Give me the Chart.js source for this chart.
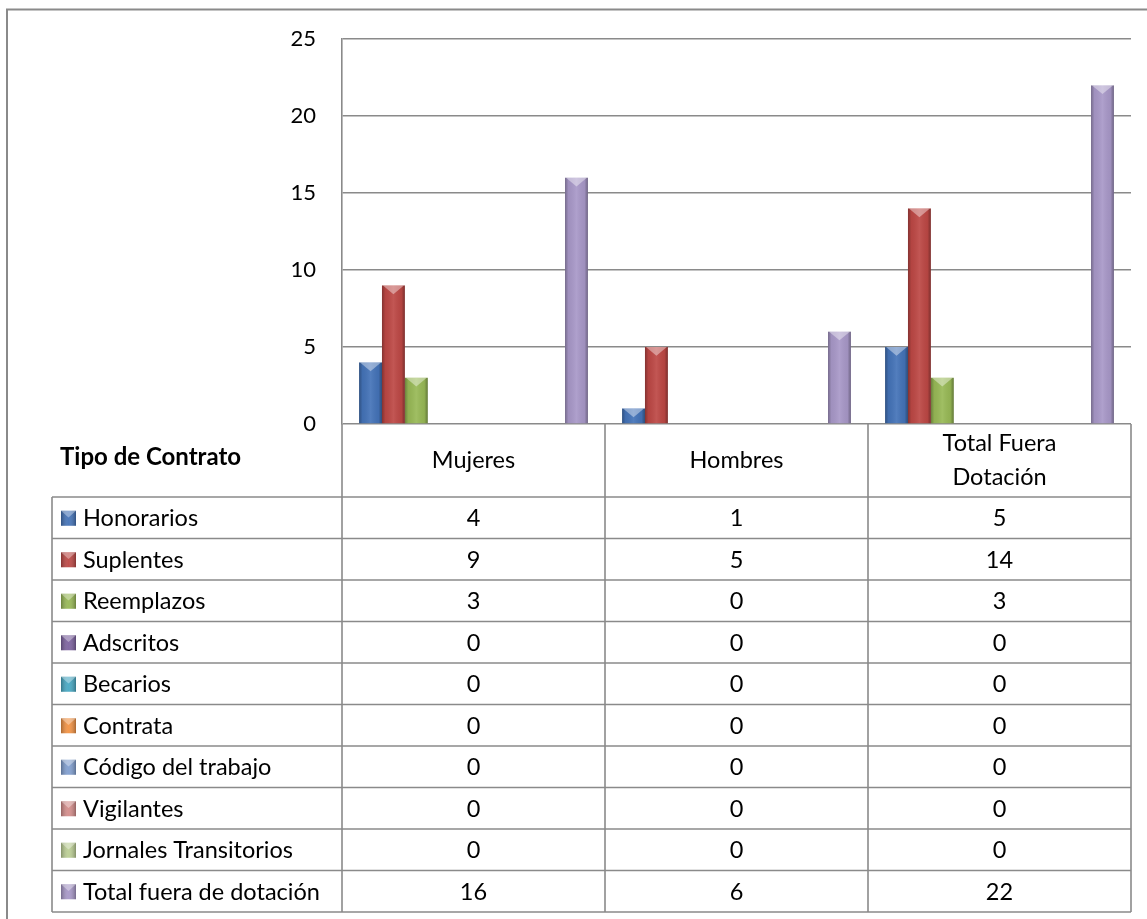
<!DOCTYPE html>
<html>
<head>
<meta charset="utf-8">
<script src="https://cdn.jsdelivr.net/npm/chart.js@4"></script>
<style>
  body { margin: 0; background: #fff; }
  #wrap { width: 1147px; height: 919px; position: relative; }
</style>
</head>
<body>
<div id="wrap"><canvas id="chart"></canvas></div>
<script>
const categories = ["Mujeres", "Hombres", "Total Fuera Dotación"];
const headerLines = [["Mujeres"], ["Hombres"], ["Total Fuera", "Dotación"]];
const seriesNames = [
  "Honorarios", "Suplentes", "Reemplazos", "Adscritos", "Becarios",
  "Contrata", "Código del trabajo", "Vigilantes", "Jornales Transitorios",
  "Total fuera de dotación"
];
const honorarios = [4, 1, 5];
const suplentes = [9, 5, 14];
const reemplazos = [3, 0, 3];
const adscritos = [0, 0, 0];
const becarios = [0, 0, 0];
const contrata = [0, 0, 0];
const codigoTrabajo = [0, 0, 0];
const vigilantes = [0, 0, 0];
const jornales = [0, 0, 0];
const totalFuera = [16, 6, 22];
const yTicks = [0, 5, 10, 15, 20, 25];

const seriesValues = [honorarios, suplentes, reemplazos, adscritos, becarios,
  contrata, codigoTrabajo, vigilantes, jornales, totalFuera];
const colors = ["#4473b8", "#bd4845", "#98b956", "#7d62a0", "#47a9c4",
  "#f39344", "#819fd0", "#d48d8b", "#bccf95", "#a898c8"];

const FONT = "Lato, 'Noto Sans', sans-serif";
const LINE = "#8a8a8a";

// bevel look on each bar, drawn over the library's own bar elements
const bevelPlugin = {
  id: "bevel",
  afterDatasetsDraw(chart) {
    const ctx = chart.ctx;
    chart.data.datasets.forEach((ds, i) => {
      chart.getDatasetMeta(i).data.forEach(bar => {
        const h = bar.base - bar.y;
        if (h <= 0.5) return;
        const l = bar.x - bar.width / 2, r = bar.x + bar.width / 2, w = bar.width;
        ctx.save();
        const g = ctx.createLinearGradient(l, 0, r, 0);
        g.addColorStop(0, "rgba(0,0,0,0.30)");
        g.addColorStop(0.15, "rgba(0,0,0,0.05)");
        g.addColorStop(0.5, "rgba(255,255,255,0.08)");
        g.addColorStop(0.85, "rgba(0,0,0,0.05)");
        g.addColorStop(1, "rgba(0,0,0,0.35)");
        ctx.fillStyle = g;
        ctx.fillRect(l, bar.y, w, h);
        const t = Math.min(w * 0.38, h);
        ctx.beginPath();
        ctx.moveTo(l + 1, bar.y);
        ctx.lineTo(r - 1, bar.y);
        ctx.lineTo(bar.x, bar.y + t);
        ctx.closePath();
        ctx.fillStyle = "rgba(255,255,255,0.4)";
        ctx.fill();
        ctx.restore();
      });
    });
  }
};

function drawKey(ctx, x, y, s, color) {
  ctx.save();
  ctx.fillStyle = color;
  ctx.fillRect(x, y, s, s);
  const g = ctx.createLinearGradient(x, 0, x + s, 0);
  g.addColorStop(0, "rgba(0,0,0,0.3)");
  g.addColorStop(0.5, "rgba(255,255,255,0.05)");
  g.addColorStop(1, "rgba(0,0,0,0.3)");
  ctx.fillStyle = g;
  ctx.fillRect(x, y, s, s);
  ctx.beginPath();
  ctx.moveTo(x, y);
  ctx.lineTo(x + s, y);
  ctx.lineTo(x + s / 2, y + s * 0.45);
  ctx.closePath();
  ctx.fillStyle = "rgba(255,255,255,0.35)";
  ctx.fill();
  ctx.restore();
}

// data table under the plot, columns follow the x scale
const tablePlugin = {
  id: "dataTable",
  afterDraw(chart) {
    const ctx = chart.ctx;
    const xs = chart.scales.x;
    const area = chart.chartArea;
    const n = categories.length;
    const colW = (xs.right - xs.left) / n;
    const edges = [];
    for (let i = 0; i <= n; i++) edges.push(xs.left + i * colW);
    const tableLeft = 52;
    const headerTop = area.bottom;
    const headerH = 73;
    const rowsTop = headerTop + headerH;
    const rowH = 41.5;
    const rowsBottom = rowsTop + rowH * seriesNames.length;

    ctx.save();
    // outer chart frame (cropped on right and bottom)
    ctx.strokeStyle = LINE;
    ctx.lineWidth = 2;
    ctx.beginPath();
    ctx.moveTo(7, chart.height);
    ctx.lineTo(7, 9.5);
    ctx.lineTo(chart.width, 9.5);
    ctx.stroke();

    ctx.lineWidth = 1.6;
    ctx.beginPath();
    // column lines
    edges.forEach(x => { ctx.moveTo(x, headerTop); ctx.lineTo(x, rowsBottom); });
    ctx.moveTo(tableLeft, rowsTop); ctx.lineTo(tableLeft, rowsBottom);
    // row lines
    for (let r = 0; r <= seriesNames.length; r++) {
      const y = rowsTop + r * rowH;
      ctx.moveTo(tableLeft, y); ctx.lineTo(xs.right, y);
    }
    ctx.stroke();

    ctx.fillStyle = "#000";
    ctx.textBaseline = "middle";
    ctx.font = "bold 24px " + FONT;
    ctx.textAlign = "left";
    ctx.fillText("Tipo de Contrato", 60, headerTop + 33);

    ctx.font = "23.5px " + FONT;
    ctx.textAlign = "center";
    headerLines.forEach((lines, i) => {
      const cx = xs.getPixelForTick(i);
      const lh = 34;
      const y0 = headerTop + headerH / 2 - (lines.length - 1) * lh / 2;
      lines.forEach((t, k) => ctx.fillText(t, cx, y0 + k * lh));
    });

    seriesNames.forEach((name, r) => {
      const cy = rowsTop + r * rowH + rowH / 2;
      drawKey(ctx, 61, cy - 7, 15, colors[r]);
      ctx.textAlign = "left";
      ctx.fillText(name, 83, cy + 1);
      ctx.textAlign = "center";
      seriesValues[r].forEach((v, i) => {
        ctx.fillText(String(v), xs.getPixelForTick(i), cy + 1);
      });
    });
    ctx.restore();
  }
};

new Chart(document.getElementById("chart"), {
  type: "bar",
  data: {
    labels: categories,
    datasets: seriesNames.map((name, i) => ({
      label: name,
      data: seriesValues[i],
      backgroundColor: colors[i],
      borderWidth: 0,
      categoryPercentage: 0.87,
      barPercentage: 1.0,
    })),
  },
  options: {
    responsive: true,
    maintainAspectRatio: false,
    animation: false,
    devicePixelRatio: 1,
    layout: { padding: { top: 39, right: 16, bottom: 495, left: 0 } },
    scales: {
      x: {
        display: false,
      },
      y: {
        min: 0,
        max: 25,
        afterFit: (scale) => { scale.width = 342; },
        afterBuildTicks: (scale) => { scale.ticks = yTicks.map(v => ({ value: v })); },
        ticks: {
          padding: 26,
          color: "#000",
          font: { family: FONT, size: 22 },
        },
        grid: { color: LINE, lineWidth: 1.6, drawTicks: false },
        border: { color: LINE, width: 1.6 },
      },
    },
    plugins: {
      legend: { display: false },
      tooltip: { enabled: false },
    },
  },
  plugins: [bevelPlugin, tablePlugin],
});
</script>
</body>
</html>
